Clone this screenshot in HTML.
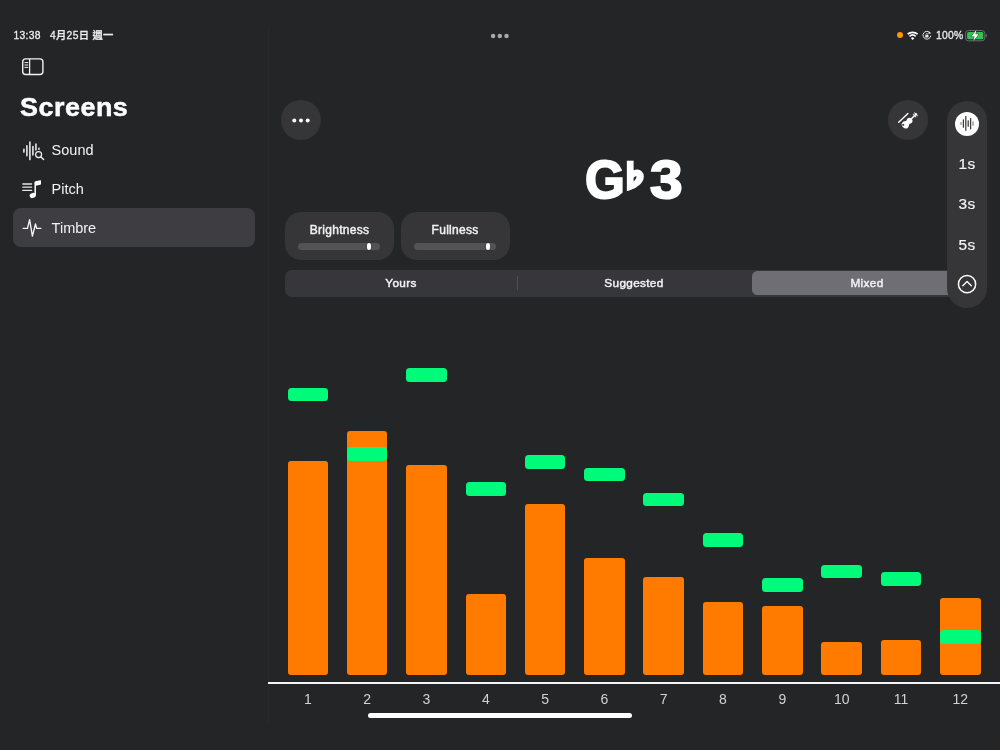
<!DOCTYPE html>
<html lang="zh-Hant">
<head>
<meta charset="utf-8">
<title>Timbre</title>
<style>
*{box-sizing:border-box;margin:0;padding:0}
html,body{width:1000px;height:750px;overflow:hidden;background:#242527}
body{position:relative;font-family:"Liberation Sans","Noto Sans CJK TC",sans-serif;color:#fff;-webkit-font-smoothing:antialiased}
.abs{position:absolute}
.t{position:absolute;white-space:nowrap;line-height:1}
/* status bar */
.st{font-size:10.3px;font-weight:500;color:#ececee;top:31.2px;-webkit-text-stroke:.3px #ececee;letter-spacing:.3px}
/* sidebar */
#sep{left:267.5px;top:26px;width:1.5px;height:697.6px;background:#2a2a2d}
#title{left:19.8px;top:94px;font-size:26px;font-weight:bold;letter-spacing:.5px;-webkit-text-stroke:.5px #fff;transform:scaleX(1.035);transform-origin:0 0}
.nav{left:51.6px;font-size:14.5px;color:#f2f2f4}
#sel{left:13.3px;top:208.2px;width:241.7px;height:38.8px;border-radius:8px;background:#3e3d42}
.gl{font-size:54px;font-weight:bold;-webkit-text-stroke:2px #fff;transform-origin:0 0}
/* buttons */
.circ{width:40px;height:40px;border-radius:50%;background:#363638}
/* cards */
.card{top:211.7px;width:109px;height:48px;border-radius:16px;background:#363638}
.card .lbl{position:absolute;left:0;right:0;top:12.2px;text-align:center;letter-spacing:.3px;font-size:12px;color:#f2f2f4;line-height:1;-webkit-text-stroke:.45px #f2f2f4}
.card .trk{position:absolute;left:13px;right:13.7px;top:31px;height:7px;border-radius:3.5px;background:#535355}
.card .thumb{position:absolute;top:31px;width:4.4px;height:7px;border-radius:2px;background:#fff;box-shadow:0 0 1.5px rgba(0,0,0,.55)}
/* segmented */
#seg{left:285px;top:269.5px;width:699px;height:27px;border-radius:7px;background:#37373b}
#segsel{left:752px;top:271px;width:230.5px;height:24px;border-radius:5.5px;background:#6e6e74}
.segt{font-size:11.8px;letter-spacing:.32px;color:#f2f2f4;top:277px;transform:translateY(.55px);width:120px;text-align:center;-webkit-text-stroke:.45px #f2f2f4}
/* pill */
#pill{left:947px;top:100.5px;width:40px;height:207.5px;border-radius:20px;background:#363638}
.sec{font-size:15.4px;letter-spacing:.3px;-webkit-text-stroke:.2px #f4f4f6;color:#f4f4f6;width:40px;left:947px;text-align:center}
/* chart */
.bar{position:absolute;width:40.6px;background:#ff7b00;border-radius:3px}
.mk{position:absolute;width:40.6px;height:13.5px;background:#00fa7a;border-radius:3.5px}
.num{position:absolute;top:692px;width:60px;text-align:center;font-size:14px;color:#d2d2d6;line-height:1}
#axis{left:268px;top:682px;width:732px;height:2px;background:#f4f4f4}
#home{left:368px;top:713px;width:264px;height:5px;border-radius:2.5px;background:#fff}
</style>
</head>
<body>
<div id="root" style="position:absolute;left:0;top:0;width:1000px;height:750px;will-change:transform">
<!-- status bar -->
<div class="t st" style="left:13.5px">13:38</div>
<div class="t st" style="left:50px;letter-spacing:.3px">4月25日 週一</div>
<div class="t st" style="left:936px">100%</div>
<div class="abs" style="left:896.9px;top:31.9px;width:6.6px;height:6.6px;border-radius:50%;background:#ff9500"></div>

<!-- sidebar -->
<div class="abs" id="sep"></div>
<div class="t" id="title">Screens</div>
<div class="abs" id="sel"></div>
<div class="t nav" style="top:143.4px">Sound</div>
<div class="t nav" style="top:182.1px">Pitch</div>
<div class="t nav" style="top:220.5px">Timbre</div>

<!-- top buttons -->
<div class="abs circ" style="left:281px;top:100px"></div>
<div class="abs circ" style="left:887.5px;top:100px"></div>

<!-- note -->
<div class="t gl" id="nG" style="left:584.8px;top:152.2px;transform:scaleX(.947)">G</div>
<div class="t gl" id="nF" style="left:618.7px;top:161.3px;font-family:'IPAGothic','Noto Sans CJK SC','DejaVu Sans',sans-serif;font-size:30px;-webkit-text-stroke:3.5px #fff;will-change:transform">♭</div>
<div class="t gl" id="n3" style="left:650.3px;top:152.2px;transform:scaleX(1.086)">3</div>

<!-- cards -->
<div class="abs card" style="left:285px"><div class="lbl">Brightness</div><div class="trk"></div><div class="thumb" style="left:81.6px"></div></div>
<div class="abs card" style="left:400.6px"><div class="lbl">Fullness</div><div class="trk"></div><div class="thumb" style="left:85.5px"></div></div>

<!-- segmented -->
<div class="abs" id="seg"></div>
<div class="abs" style="left:517px;top:276px;width:1px;height:14px;background:#505054"></div>
<div class="abs" id="segsel"></div>
<div class="t segt" style="left:341px">Yours</div>
<div class="t segt" style="left:574px">Suggested</div>
<div class="t segt" style="left:807px">Mixed</div>

<!-- pill -->
<div class="abs" id="pill"></div>
<div class="abs" style="left:955px;top:111.5px;width:24px;height:24px;border-radius:50%;background:#fff"></div>
<div class="t sec" style="top:155.9px">1s</div>
<div class="t sec" style="top:196.1px">3s</div>
<div class="t sec" style="top:236.5px">5s</div>

<!-- icons -->
<svg class="abs" style="left:0;top:0" width="1000" height="750" viewBox="0 0 1000 750" fill="none">
 <!-- top handle dots -->
 <g fill="#a9a9ab"><circle cx="493.1" cy="36" r="2.25"/><circle cx="499.8" cy="36" r="2.25"/><circle cx="506.5" cy="36" r="2.25"/></g>
 <!-- wifi -->
 <g id="wifi" transform="translate(0 -.4)" stroke="#fff" stroke-width="1.7" stroke-linecap="butt">
  <path d="M907.6 34.6 A7.6 7.6 0 0 1 917.6 34.6" />
  <path d="M909.5 36.7 A4.8 4.8 0 0 1 915.7 36.7" />
 </g>
 <path d="M912.6 40 L910.9 38.2 A2.4 2.4 0 0 1 914.3 38.2 Z" fill="#fff"/>
 <!-- rotation lock -->
 <g id="rot">
  <path d="M929.9 32.7 A3.9 3.9 0 1 0 930.8 35.6" stroke="#e4e4e6" stroke-width="1"/>
  <path d="M928.7 31.3 L931.4 33.3 L928.4 34.1 Z" fill="#e4e4e6"/>
  <rect x="925.2" y="34.9" width="3.3" height="2.5" rx=".5" fill="#e4e4e6"/>
  <path d="M926 35 V34.3 A0.85 0.85 0 0 1 927.7 34.3 V35" stroke="#e4e4e6" stroke-width=".7"/>
 </g>
 <!-- battery -->
 <rect x="965.6" y="30.6" width="19.2" height="10.2" rx="2.8" stroke="#6d6d70" stroke-width="1"/>
 <rect x="967.1" y="32.1" width="16.2" height="7.2" rx="1.5" fill="#30c550"/>
 <path d="M986 34 Q987.2 35.7 986 37.4 Z" fill="#6d6d70" stroke="#6d6d70" stroke-width=".6"/>
 <path d="M976.6 29.6 L971.4 36.4 H974.6 L973.2 41.2 L978.6 34.2 H975.4 Z" fill="#fff" stroke="#242527" stroke-width=".9" paint-order="stroke"/>
 <!-- sidebar toggle -->
 <g stroke="#f2f2f4">
  <rect x="22.7" y="58.9" width="20.2" height="15.6" rx="3" stroke-width="1.4"/>
  <path d="M29.6 59 V74.4" stroke-width="1.3"/>
  <path d="M24.9 62.6 H27.8 M24.9 65 H27.8 M24.9 67.4 H27.8" stroke-width="1" stroke-linecap="round"/>
 </g>
 <!-- sound icon -->
 <g stroke="#dcdcde" stroke-width="1.7" stroke-linecap="round">
  <path d="M23.9 149.4 V152"/><path d="M26.9 145.8 V155.6"/><path d="M29.9 142 V159.4"/><path d="M32.9 146.6 V154.8"/><path d="M35.9 144.2 V149.8"/><path d="M38.9 148.4 V149.2"/>
 </g>
 <circle cx="38.6" cy="154.6" r="3" stroke="#f2f2f4" stroke-width="1.2"/>
 <path d="M40.9 156.9 L43.6 159.6" stroke="#f2f2f4" stroke-width="1.4" stroke-linecap="round"/>
 <!-- pitch icon -->
 <path d="M22.8 184 H31.6 M22.8 187.2 H31.6 M22.8 190.4 H31.6" stroke="#e6e6e8" stroke-width="1.3" stroke-linecap="round"/>
 <ellipse cx="32.7" cy="195.5" rx="3.1" ry="2.5" transform="rotate(-20 32.7 195.5)" fill="#fff"/>
 <path d="M35.2 195.4 V182.6" stroke="#fff" stroke-width="1.5"/>
 <path d="M34.5 182.4 Q34.5 181.5 35.5 181.3 L40.2 180.2 Q41 180 41 180.9 V183.8 Q41 184.6 40.2 184.8 L35.9 185.8 Z" fill="#fff"/>
 <!-- timbre icon -->
 <path d="M23.2 228.4 H27.5 L29.6 219.6 L32.4 236.2 L35.5 224 L36.7 228.4 H40.8" stroke="#f6f6f8" stroke-width="1.35" stroke-linecap="round" stroke-linejoin="round"/>
 <!-- ellipsis -->
 <g fill="#fff"><circle cx="294.3" cy="120.5" r="2"/><circle cx="301" cy="120.5" r="2"/><circle cx="307.7" cy="120.5" r="2"/></g>
 <!-- violin -->
 <g id="violin">
  <path d="M898.7 122.3 L907.9 113.5" stroke="#fff" stroke-width="1.35" stroke-linecap="round"/>
  <g transform="translate(907.3 122.9) rotate(45)" fill="#fff">
   <path d="M-0.75 -13.4 H0.75 V-4 H-0.75 Z"/>
   <path d="M-2.3 -12.3 H2.3 M-2.3 -10.3 H2.3" stroke="#fff" stroke-width="1"/>
   <path d="M0 -6 C2 -6 3 -4.7 3 -3.3 C3 -2.2 2.2 -1.7 2.2 -0.7 C2.2 0.3 3.8 0.9 3.8 2.9 C3.8 5 2.2 6 0 6 C-2.2 6 -3.8 5 -3.8 2.9 C-3.8 0.9 -2.2 0.3 -2.2 -0.7 C-2.2 -1.7 -3 -2.2 -3 -3.3 C-3 -4.7 -2 -6 0 -6 Z"/>
   <circle cx="-1.5" cy="4.3" r="1.05" fill="#363638"/>
  </g>
 </g>
 <!-- waveform in white circle -->
 <g stroke="#3a3a3c" stroke-width="1.25" stroke-linecap="round">
  <path d="M961 122.6 V124.4" stroke="#8a8a8c"/><path d="M963.4 119.8 V127.2"/><path d="M965.8 116.6 V130.3"/><path d="M968.2 120.8 V126.2"/><path d="M970.6 118.5 V128.8"/><path d="M973 121.8 V125.2" stroke="#8a8a8c"/>
 </g>
 <!-- chevron circle -->
 <circle cx="967.05" cy="284.15" r="8.6" stroke="#fff" stroke-width="1.5"/>
 <path d="M962.8 285.8 L967.05 281.5 L971.3 285.8" stroke="#fff" stroke-width="1.3" stroke-linecap="round" stroke-linejoin="round"/>
</svg>
<!-- chart -->
<div id="chart">
<div class="bar" style="left:287.5px;top:461.0px;height:214.0px"></div>
<div class="bar" style="left:346.8px;top:431.0px;height:244.0px"></div>
<div class="bar" style="left:406.1px;top:464.5px;height:210.5px"></div>
<div class="bar" style="left:465.5px;top:594.2px;height:80.8px"></div>
<div class="bar" style="left:524.8px;top:504.0px;height:171.0px"></div>
<div class="bar" style="left:584.1px;top:558.2px;height:116.8px"></div>
<div class="bar" style="left:643.4px;top:577.0px;height:98.0px"></div>
<div class="bar" style="left:702.7px;top:602.2px;height:72.8px"></div>
<div class="bar" style="left:762.1px;top:606.0px;height:69.0px"></div>
<div class="bar" style="left:821.4px;top:641.8px;height:33.2px"></div>
<div class="bar" style="left:880.7px;top:639.5px;height:35.5px"></div>
<div class="bar" style="left:940.0px;top:598.3px;height:76.7px"></div>
<div class="mk" style="left:287.5px;top:387.7px"></div>
<div class="mk" style="left:346.8px;top:447.3px"></div>
<div class="mk" style="left:406.1px;top:368.2px"></div>
<div class="mk" style="left:465.5px;top:482.0px"></div>
<div class="mk" style="left:524.8px;top:455.1px"></div>
<div class="mk" style="left:584.1px;top:467.7px"></div>
<div class="mk" style="left:643.4px;top:492.8px"></div>
<div class="mk" style="left:702.7px;top:533.1px"></div>
<div class="mk" style="left:762.1px;top:578.0px"></div>
<div class="mk" style="left:821.4px;top:564.8px"></div>
<div class="mk" style="left:880.7px;top:572.2px"></div>
<div class="mk" style="left:940.0px;top:630.2px"></div>
<div class="num" style="left:277.8px">1</div>
<div class="num" style="left:337.1px">2</div>
<div class="num" style="left:396.4px">3</div>
<div class="num" style="left:455.8px">4</div>
<div class="num" style="left:515.1px">5</div>
<div class="num" style="left:574.4px">6</div>
<div class="num" style="left:633.7px">7</div>
<div class="num" style="left:693.0px">8</div>
<div class="num" style="left:752.4px">9</div>
<div class="num" style="left:811.7px">10</div>
<div class="num" style="left:871.0px">11</div>
<div class="num" style="left:930.3px">12</div>
</div>
<div class="abs" id="axis"></div>
<div class="abs" id="home"></div>
</div>
</body>
</html>
